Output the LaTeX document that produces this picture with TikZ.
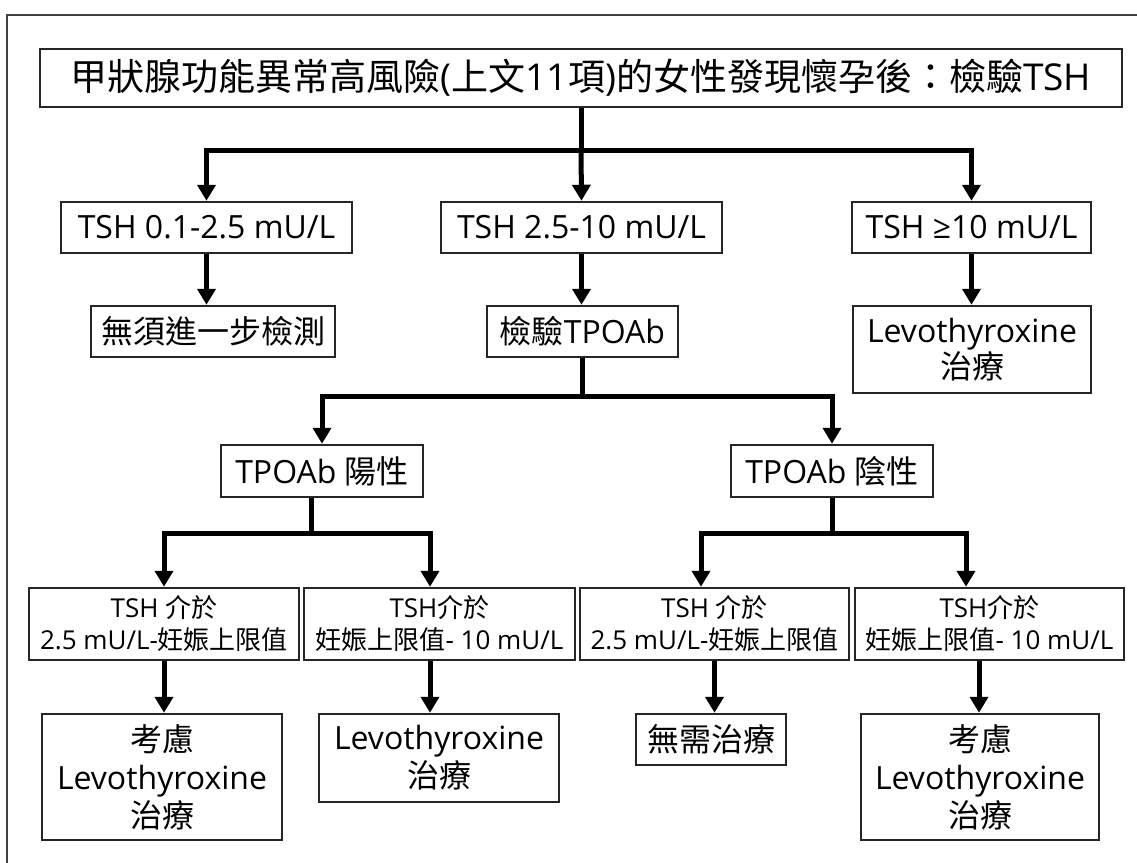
\documentclass[tikz,border=0pt]{standalone}
\usepackage{fontspec}
\setmainfont{Open Sans}
\newfontfamily\cjkfont{Noto Sans CJK TC}
\newcommand{\zh}[1]{{\cjkfont #1}}
\usetikzlibrary{arrows.meta}
\begin{document}
\begin{tikzpicture}[x=1pt,y=-1pt,
  box/.style={draw=black!85, line width=2.5pt, inner sep=0pt, align=center, text=black},
  conn/.style={line width=5pt, line join=miter},
  arr/.style={conn, -{Triangle[width=18pt,length=16pt]}},
  ttl/.style={font=\fontsize{37}{44}\selectfont},
  big/.style={font=\fontsize{32}{38}\selectfont},
  mid/.style={font=\fontsize{32}{32}\selectfont},
  small/.style={font=\fontsize{26}{32}\selectfont},
  frame/.style={draw=black!75, line width=1.8pt}
]
\fill[white] (0,0) rectangle (1137,862);
\useasboundingbox (0,0) rectangle (1137,862);
\draw[frame] (1140,15) -- (7,15) -- (7,865);

% nodes
\node[box,ttl,minimum width=1082pt,minimum height=58pt] (title) at (581,78)
  {\zh{甲狀腺功能異常高風險}(\zh{上文}11\zh{項})\zh{的女性發現懷孕後：檢驗}TSH};

\node[box,big,minimum width=291pt,minimum height=51pt] (A) at (206.5,227.5) {TSH 0.1-2.5 mU/L};
\node[box,big,minimum width=281pt,minimum height=51pt] (B) at (581.5,227.5) {TSH 2.5-10 mU/L};
\node[box,big,minimum width=239pt,minimum height=51pt] (C) at (971.5,227.5) {TSH ≥10 mU/L};

\node[box,big,minimum width=244pt,minimum height=51pt] (nf) at (213,331.5) {\zh{無須進一步檢測}};
\node[box,big,minimum width=191pt,minimum height=51pt] (tpo) at (582.5,331.5) {\zh{檢驗}TPOAb};
\node[box,mid,minimum width=238pt,minimum height=87pt] (lc) at (972,349.5) {Levothyroxine\\\zh{治療}};

\node[box,big,minimum width=202pt,minimum height=52pt] (pos) at (322,471) {TPOAb \zh{陽性}};
\node[box,big,minimum width=202pt,minimum height=52pt] (neg) at (832,471) {TPOAb \zh{陰性}};

\node[box,small,minimum width=270pt,minimum height=72pt] (r1) at (164,624) {TSH \zh{介於}\\2.5 mU/L-\zh{妊娠上限值}};
\node[box,small,minimum width=271pt,minimum height=72pt] (r2) at (439.5,624) {TSH\zh{介於}\\\zh{妊娠上限值}- 10 mU/L};
\node[box,small,minimum width=269pt,minimum height=72pt] (r3) at (714.5,624) {TSH \zh{介於}\\2.5 mU/L-\zh{妊娠上限值}};
\node[box,small,minimum width=269pt,minimum height=72pt] (r4) at (989.5,624) {TSH\zh{介於}\\\zh{妊娠上限值}- 10 mU/L};

\node[box,big,minimum width=240pt,minimum height=126pt] (f1) at (162,777) {\zh{考慮}\\Levothyroxine\\\zh{治療}};
\node[box,big,minimum width=240pt,minimum height=88pt] (f2) at (439,758) {Levothyroxine\\\zh{治療}};
\node[box,big,minimum width=150pt,minimum height=51pt] (f3) at (711,739.5) {\zh{無需治療}};
\node[box,big,minimum width=238pt,minimum height=126pt] (f4) at (980,777) {\zh{考慮}\\Levothyroxine\\\zh{治療}};

% junctions
\coordinate (j1) at (581,150);
\coordinate (j2) at (582,396);
\coordinate (j3) at (311,533);
\coordinate (j4) at (833,533);

% connectors
\draw[conn] (title.south) -- (j1);
\draw[arr] (j1) -| (A.north);
\draw[arr] (j1) -- (B.north);
\draw[arr] (j1) -| (C.north);

\draw[arr] (A.south) -- (A.south |- nf.north);
\draw[arr] (B.south) -- (B.south |- tpo.north);
\draw[arr] (C.south) -- (C.south |- lc.north);

\draw[conn] (tpo.south) -- (tpo.south |- j2);
\draw[arr] (tpo.south |- j2) -| (pos.north);
\draw[arr] (tpo.south |- j2) -| (neg.north);

\draw[conn] ([xshift=-11pt]pos.south) -- (j3);
\draw[arr] (j3) -| (r1.north);
\draw[arr] (j3) -| ([xshift=-9.5pt]r2.north);

\draw[conn] (neg.south) -- (neg.south |- j4);
\draw[arr] (neg.south |- j4) -| ([xshift=-13.5pt]r3.north);
\draw[arr] (neg.south |- j4) -| ([xshift=-23.5pt]r4.north);

\draw[arr] (r1.south) -- (r1.south |- f1.north);
\draw[arr] ([xshift=-9.5pt]r2.south) -- ([xshift=-9.5pt]r2.south |- f2.north);
\draw[arr] (r3.south) -- (r3.south |- f3.north);
\draw[arr] ([xshift=-10.5pt]r4.south) -- ([xshift=-10.5pt]r4.south |- f4.north);
\end{tikzpicture}
\end{document}
